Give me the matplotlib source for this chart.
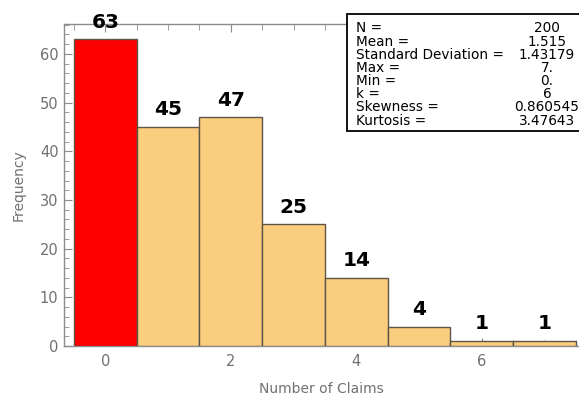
import matplotlib
matplotlib.use("Agg")
import matplotlib.pyplot as plt
from matplotlib.patches import Rectangle
from matplotlib.ticker import MultipleLocator, FixedLocator

# Claim-count histogram data
claims = [0, 1, 2, 3, 4, 5, 6, 7]
counts = [63, 45, 47, 25, 14, 4, 1, 1]
highlight = 0

stat_names = ["N =", "Mean =", "Standard Deviation =", "Max =", "Min =",
              "k =", "Skewness =", "Kurtosis ="]
stat_values = ["200", "1.515", "1.43179", "7.", "0.", "6", "0.860545", "3.47643"]

W, H = 579, 397
plt.rcParams["font.family"] = ["DejaVu Sans"]
fig = plt.figure(figsize=(W / 100, H / 100), dpi=100)

ax = fig.add_axes([64 / W, 51 / H, (W - 64) / W, 322.5 / H])

face = ["#ff0000" if c == highlight else "#fbcd7f" for c in claims]
ax.bar(claims, counts, width=1.0, color=face, edgecolor="#5e5546",
       linewidth=1.0, zorder=3)

for c, n in zip(claims, counts):
    ax.annotate(str(n), (c, n), xytext=(0, 8.4), textcoords="offset points",
                ha="center", va="baseline", fontsize=14.5, fontweight="heavy",
                color="black", zorder=5, annotation_clip=False)

ax.set_xlim(-0.66, 7.55)
ax.set_ylim(0, 66.26)

grey = "#8c8c8c"
for side in ("left", "bottom", "top"):
    ax.spines[side].set_color(grey)
    ax.spines[side].set_linewidth(1.0)
ax.spines["right"].set_visible(False)

ax.xaxis.set_major_locator(FixedLocator([0, 2, 4, 6]))
ax.xaxis.set_minor_locator(MultipleLocator(0.5))
ax.yaxis.set_major_locator(MultipleLocator(10))
ax.yaxis.set_minor_locator(MultipleLocator(2))

ax.tick_params(axis="x", which="both", direction="in", top=True, bottom=True,
               colors=grey, labelcolor="#707070", labelsize=10.5, pad=6)
ax.tick_params(axis="x", which="major", length=6)
ax.tick_params(axis="x", which="minor", length=4)
ax.tick_params(axis="y", which="both", direction="in", left=True, right=False,
               colors=grey, labelcolor="#707070", labelsize=10.5, pad=4)
ax.tick_params(axis="y", which="major", length=6)
ax.tick_params(axis="y", which="minor", length=3.5)

ax.set_xlabel("Number of Claims", fontsize=10, color="#707070", labelpad=9)
ax.set_ylabel("Frequency", fontsize=10, color="#707070", labelpad=10)

# Summary statistics panel
bx0, by0, bx1, by1 = 347, 14, 590, 131
box = Rectangle((bx0 / W, 1 - by1 / H), (bx1 - bx0) / W, (by1 - by0) / H,
                transform=fig.transFigure, facecolor="white",
                edgecolor="black", linewidth=1.3, zorder=10)
fig.add_artist(box)
for i, (name, val) in enumerate(zip(stat_names, stat_values)):
    y = 1 - (28.5 + i * 13.15) / H
    fig.text(356 / W, y, name, ha="left", va="center", fontsize=9.8,
             color="black", zorder=11)
    fig.text(547 / W, y, val, ha="center", va="center", fontsize=9.8,
             color="black", zorder=11)

fig.savefig("out.png", dpi=100)
